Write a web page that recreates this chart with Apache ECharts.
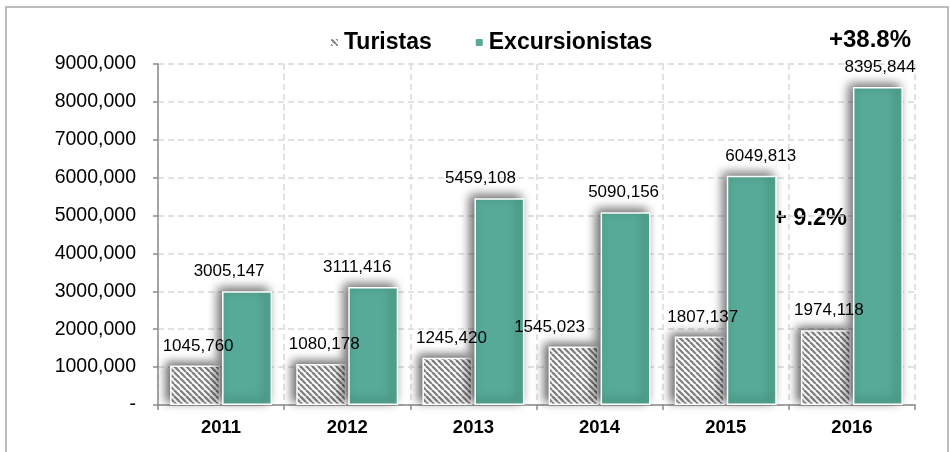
<!DOCTYPE html>
<html>
<head>
<meta charset="utf-8">
<script src="https://cdn.jsdelivr.net/npm/echarts@6/dist/echarts.min.js"></script>
<style>
html,body{margin:0;padding:0;background:#fff;}
#chart{width:950px;height:452px;}
</style>
</head>
<body>
<div id="chart"></div>
<script>
// ---- data ----
const categories = ['2011', '2012', '2013', '2014', '2015', '2016'];
const turistas = [1045760, 1080178, 1245420, 1545023, 1807137, 1974118];
const excursionistas = [3005147, 3111416, 5459108, 5090156, 6049813, 8395844];
const yTicks = { min: 0, max: 9000000, interval: 1000000 };
const seriesNames = ['Turistas', 'Excursionistas'];
const annotations = ['+38.8%', '+ 9.2%'];

// ---- styling helpers ----
const turLabelDx = [3, 3, 4, -24, 3, 3];
const excLabelDx = [-18, -16, -19, -2, 9, 2];

function fmt(v) {
  if (v === 0) return '-';
  const th = Math.floor(v / 1000);
  const rest = String(v % 1000).padStart(3, '0');
  return th + ',' + rest;
}

function hatch() {
  const s = 6;
  const c = document.createElement('canvas');
  c.width = s; c.height = s;
  const x = c.getContext('2d');
  x.fillStyle = '#ffffff';
  x.fillRect(0, 0, s, s);
  x.strokeStyle = '#808080';
  x.lineWidth = 2.2;
  for (let o = -s; o <= s; o += s) {
    x.beginPath();
    x.moveTo(o, 0);
    x.lineTo(o + s, s);
    x.stroke();
  }
  return c;
}
const hatchColor = { image: hatch(), repeat: 'repeat' };
const green = '#56aa97';
const FONT = 'Liberation Sans, Arial, sans-serif';

const barStyle = (color) => ({
  color: color,
  borderColor: '#ffffff',
  borderWidth: 1.5,
  shadowBlur: 10,
  shadowColor: 'rgba(0,0,0,0.6)',
  shadowOffsetX: -4,
  shadowOffsetY: -3
});

const labelBase = {
  show: true,
  position: 'top',
  distance: 11,
  fontFamily: FONT,
  fontSize: 17,
  color: '#000',
  formatter: (p) => fmt(p.value)
};

const chart = echarts.init(document.getElementById('chart'), null, { renderer: 'canvas' });
chart.setOption({
  backgroundColor: '#ffffff',
  animation: false,
  grid: { left: 158, right: 35, top: 64, bottom: 47 },
  legend: {
    data: seriesNames,
    left: 324,
    top: 26,
    itemWidth: 9,
    itemHeight: 9,
    itemGap: 42,
    textStyle: { fontFamily: FONT, fontSize: 23, fontWeight: 'bold', color: '#000' }
  },
  xAxis: {
    type: 'category',
    data: categories,
    axisLine: { lineStyle: { color: '#8c8c8c', width: 1.5 } },
    axisTick: { show: true, length: 5, lineStyle: { color: '#8c8c8c', width: 1.5 } },
    axisLabel: { fontFamily: FONT, fontSize: 18.5, fontWeight: 'bold', color: '#000', margin: 13 },
    splitLine: { show: true, lineStyle: { color: '#d9d9d9', type: [6, 4], width: 1.5 } }
  },
  yAxis: {
    type: 'value',
    min: yTicks.min,
    max: yTicks.max,
    interval: yTicks.interval,
    axisLine: { show: true, lineStyle: { color: '#8c8c8c', width: 1.5 } },
    axisTick: { show: true, length: 5, lineStyle: { color: '#8c8c8c', width: 1.5 } },
    axisLabel: { fontFamily: FONT, fontSize: 19.5, color: '#000', margin: 22, formatter: fmt },
    splitLine: { show: true, lineStyle: { color: '#d9d9d9', type: [6, 4], width: 1.5 } }
  },
  series: [
    {
      name: seriesNames[0],
      type: 'bar',
      barWidth: 50,
      barGap: '4%',
      itemStyle: barStyle(hatchColor),
      label: labelBase,
      data: turistas.map((v, i) => ({ value: v, label: { offset: [turLabelDx[i], 0] } }))
    },
    {
      name: seriesNames[1],
      type: 'bar',
      barWidth: 50,
      barGap: '4%',
      itemStyle: barStyle(green),
      label: labelBase,
      data: excursionistas.map((v, i) => ({ value: v, label: { offset: [excLabelDx[i], 0] } }))
    }
  ],
  graphic: [
    {
      type: 'rect',
      silent: true,
      shape: { x: 6, y: 7, width: 942, height: 460 },
      style: { fill: 'none', stroke: '#a6a6a6', lineWidth: 1.5 }
    },
    {
      type: 'text',
      x: 870, y: 40,
      style: { text: annotations[0], fontFamily: FONT, fontSize: 24, fontWeight: 'bold', fill: '#000', align: 'center', verticalAlign: 'middle' }
    },
    {
      type: 'text',
      x: 810, y: 219,
      style: { text: annotations[1], fontFamily: FONT, fontSize: 23.5, fontWeight: 'bold', fill: '#000', align: 'center', verticalAlign: 'middle' }
    }
  ]
});
</script>
</body>
</html>
